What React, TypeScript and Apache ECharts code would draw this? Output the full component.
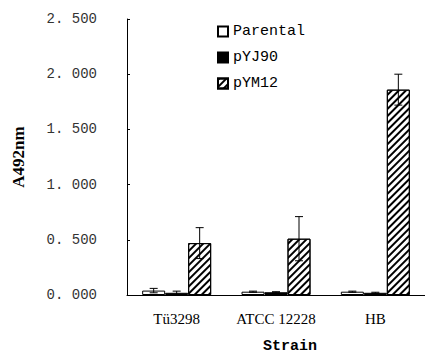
import React, { useEffect, useRef } from "react";
import * as echarts from "echarts";

const categories = ["Tü3298", "ATCC 12228", "HB"];
const seriesNames = ["Parental", "pYJ90", "pYM12"];
const parental = [0.04, 0.03, 0.03];
const parentalErr = [0.02, 0.005, 0.005];
const pyj90 = [0.02, 0.025, 0.02];
const pyj90Err = [0.015, 0.005, 0.005];
const pym12 = [0.47, 0.51, 1.86];
const pym12Err = [0.14, 0.2, 0.14];
const yTicks = ["0. 000", "0. 500", "1. 000", "1. 500", "2. 000", "2. 500"];

const BAR_W = 23;

export default function App() {
  const ref = useRef<HTMLDivElement>(null);
  useEffect(() => {
    const chart = echarts.init(ref.current!, null, { renderer: "svg" });
    const values = [parental, pyj90, pym12];
    const errs = [parentalErr, pyj90Err, pym12Err];
    const errData: number[][] = [];
    values.forEach((vals, s) =>
      vals.forEach((v, c) => errData.push([c, v, errs[s][c], s]))
    );
    const mono = "Liberation Mono";
    chart.setOption({
      animation: false,
      grid: { left: 127, right: 0, top: 19, bottom: 59, containLabel: false, outerBoundsMode: "none" },
      legend: {
        orient: "vertical",
        left: 212,
        top: 19,
        itemWidth: 10,
        itemHeight: 10,
        itemGap: 11,
        icon: "rect",
        textStyle: { fontFamily: mono, fontSize: 15, color: "#000" },
        data: seriesNames,
      },
      xAxis: {
        type: "category",
        data: categories,
        name: "Strain",
        nameLocation: "middle",
        nameGap: 44,
        nameTextStyle: {
          fontFamily: mono,
          fontWeight: "bold",
          fontSize: 15,
          lineHeight: 15,
          color: "#000",
          padding: [0, 0, 0, 28],
        },
        axisLine: { lineStyle: { color: "#000", width: 1 } },
        axisTick: { inside: true, length: 3, lineStyle: { color: "#000" } },
        axisLabel: {
          interval: 0,
          fontFamily: "Liberation Serif",
          fontSize: 15,
          color: "#000",
          margin: 16,
        },
      },
      yAxis: {
        type: "value",
        min: 0,
        max: 2.5,
        interval: 0.5,
        name: "A492nm",
        nameLocation: "middle",
        nameGap: 100,
        nameRotate: 90,
        nameTextStyle: {
          fontFamily: "Liberation Serif",
          fontWeight: "bold",
          fontSize: 17,
          color: "#000",
        },
        axisLine: { show: true, lineStyle: { color: "#000", width: 1 } },
        axisTick: { show: true, inside: true, length: 3, lineStyle: { color: "#000" } },
        splitLine: { show: false },
        axisLabel: {
          fontFamily: mono,
          fontSize: 14,
          color: "#333",
          margin: 30,
          formatter: (v: number) => yTicks[Math.round(v / 0.5)],
        },
      },
      series: [
        {
          name: seriesNames[0],
          type: "bar",
          data: parental,
          barWidth: BAR_W,
          barGap: "0%",
          itemStyle: { color: "#fff", borderColor: "#000", borderWidth: 1 },
        },
        {
          name: seriesNames[1],
          type: "bar",
          data: pyj90,
          barWidth: BAR_W,
          barGap: "0%",
          itemStyle: { color: "#000", borderColor: "#000", borderWidth: 1 },
        },
        {
          name: seriesNames[2],
          type: "bar",
          data: pym12,
          barWidth: BAR_W,
          barGap: "0%",
          itemStyle: {
            color: "#fff",
            borderColor: "#000",
            borderWidth: 1,
            decal: {
              symbol: "rect",
              color: "#000",
              backgroundColor: "#fff",
              dashArrayX: [1, 0],
              dashArrayY: [2, 3],
              rotation: -Math.PI / 4,
              symbolSize: 1,
            },
          },
        },
        {
          type: "custom",
          data: errData,
          z: 10,
          silent: true,
          renderItem: (params: any, api: any) => {
            const c = api.value(0);
            const v = api.value(1);
            const e = api.value(2);
            const s = api.value(3);
            const off = (s - 1) * BAR_W;
            const top = api.coord([c, v + e]);
            const bot = api.coord([c, v - e]);
            const x = top[0] + off;
            const cap = 4;
            const st = { stroke: "#000", lineWidth: 1 };
            return {
              type: "group",
              children: [
                { type: "line", shape: { x1: x, y1: top[1], x2: x, y2: bot[1] }, style: st },
                { type: "line", shape: { x1: x - cap, y1: top[1], x2: x + cap, y2: top[1] }, style: st },
                { type: "line", shape: { x1: x - cap, y1: bot[1], x2: x + cap, y2: bot[1] }, style: st },
              ],
            };
          },
        },
      ],
    });
    return () => chart.dispose();
  }, []);
  return (
    <div
      ref={ref}
      style={{ position: "absolute", left: 0, top: 0, width: 425, height: 354 }}
    />
  );
}
